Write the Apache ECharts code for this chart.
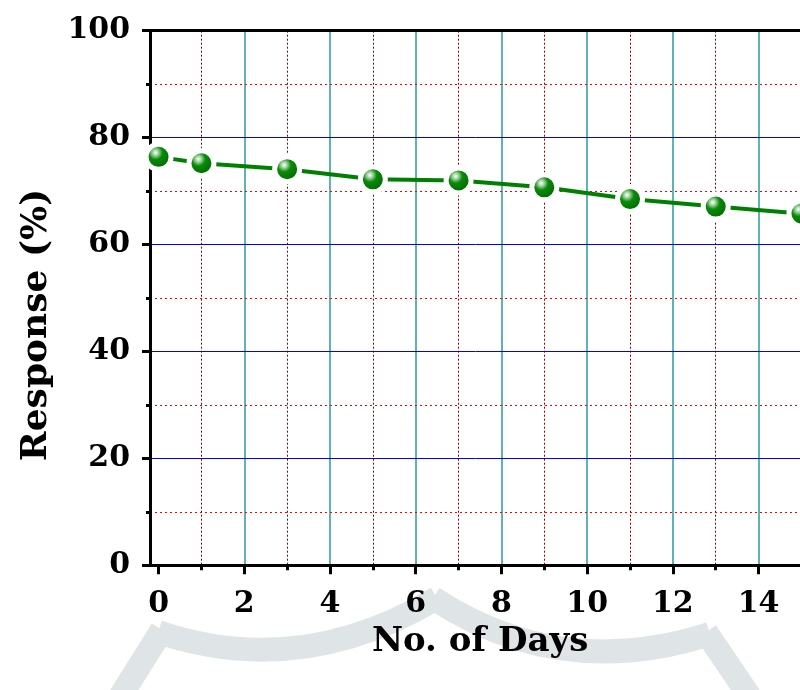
<!DOCTYPE html>
<html>
<head>
<meta charset="utf-8">
<script src="https://cdn.jsdelivr.net/npm/echarts@6/dist/echarts.min.js"></script>
<style>
html,body{margin:0;padding:0;background:#fff;}
#chart{width:800px;height:690px;}
</style>
</head>
<body>
<div id="chart"></div>
<script>
// ---- data ----
const days = [0, 1, 3, 5, 7, 9, 11, 13, 15];
const response = [76.4, 75.2, 74.1, 72.2, 72.0, 70.7, 68.5, 67.1, 65.8];
const xTicks = [0, 2, 4, 6, 8, 10, 12, 14, 16];
const xTitle = 'No. of Days';
const yTitle = 'Response (%)';

const seriesData = days.map((d, i) => [d, response[i]]);

const FONT = '"DejaVu Serif", serif';

const chart = echarts.init(document.getElementById('chart'), null, {renderer: 'canvas'});

const wmStyle = {fill: null, stroke: '#dfe4e7', lineWidth: 24, lineCap: 'butt'};
const option = {
  backgroundColor: '#ffffff',
  animation: false,
  graphic: [
    {type: 'line', z: -10, silent: true, shape: {x1: 118, y1: 700, x2: 162, y2: 630}, style: wmStyle},
    {type: 'bezierCurve', z: -10, silent: true, shape: {x1: 158, y1: 632, cpx1: 300, cpy1: 680, x2: 437, y2: 598}, style: wmStyle},
    {type: 'bezierCurve', z: -10, silent: true, shape: {x1: 433, y1: 598, cpx1: 560, cpy1: 682, x2: 710, y2: 634}, style: wmStyle},
    {type: 'line', z: -10, silent: true, shape: {x1: 706, y1: 632, x2: 752, y2: 700}, style: wmStyle}
  ],
  grid: {
    left: 150,
    top: 30.7,
    bottom: 124.7,
    right: -44.3,
    outerBoundsMode: 'none',
    containLabel: false,
    show: false
  },
  xAxis: [{
    type: 'value',
    min: -0.2,
    max: 16,
    splitNumber: 8,
    z: 3,
    name: xTitle,
    nameLocation: 'middle',
    nameGap: 60,
    nameTextStyle: {
      fontFamily: FONT, fontWeight: 'bold', fontSize: 34, color: '#000',
      padding: [0, 34, 0, 0]
    },
    axisLine: {show: true, onZero: false, lineStyle: {color: '#000', width: 3}},
    axisTick: {show: true, inside: false, length: 9, customValues: xTicks, lineStyle: {color: '#000', width: 3}},
    minorTick: {show: true, splitNumber: 2, length: 5, lineStyle: {color: '#000', width: 3}},
    axisLabel: {
      fontFamily: FONT, fontWeight: 'bold', fontSize: 30, color: '#000', margin: 24,
      customValues: xTicks
    },
    splitLine: {show: true, showMinLine: false, lineStyle: {color: '#2a9a9a', width: 1.5, type: 'solid'}},
    minorSplitLine: {show: true, lineStyle: {color: '#8b0000', width: 1, type: [2, 2]}}
  }, {
    type: 'value',
    position: 'top',
    min: -0.2,
    max: 16,
    z: 4,
    axisLine: {show: true, onZero: false, lineStyle: {color: '#000', width: 3}},
    axisTick: {show: false},
    axisLabel: {show: false},
    splitLine: {show: false}
  }],
  yAxis: {
    type: 'value',
    min: 0,
    max: 100,
    interval: 20,
    z: 4,
    name: yTitle,
    nameLocation: 'middle',
    nameGap: 95,
    nameRotate: 90,
    nameTextStyle: {
      fontFamily: FONT, fontWeight: 'bold', fontSize: 36, color: '#000',
      padding: [0, 54, 0, 0]
    },
    axisLine: {show: true, onZero: false, lineStyle: {color: '#000', width: 3}},
    axisTick: {show: true, inside: false, length: 8, lineStyle: {color: '#000', width: 3}},
    minorTick: {show: true, splitNumber: 2, length: 4, lineStyle: {color: '#000', width: 3}},
    axisLabel: {fontFamily: FONT, fontWeight: 'bold', fontSize: 30, color: '#000', margin: 20},
    splitLine: {show: true, showMinLine: false, showMaxLine: false, lineStyle: {color: '#0000ff', width: 1, type: 'solid'}},
    minorSplitLine: {show: true, lineStyle: {color: '#ff0000', width: 1, type: [2, 3]}}
  },
  series: [{
    type: 'line',
    data: seriesData,
    symbol: 'circle',
    symbolSize: 25,
    clip: false,
    lineStyle: {color: '#008000', width: 4},
    itemStyle: {
      color: {
        type: 'radial', x: 0.4, y: 0.36, r: 0.55,
        colorStops: [
          {offset: 0, color: '#ffffff'},
          {offset: 0.18, color: '#9ed49e'},
          {offset: 0.42, color: '#0a8a0a'},
          {offset: 1, color: '#006a00'}
        ]
      },
      borderColor: '#ffffff',
      borderWidth: 5
    },
    z: 10
  }]
};

chart.setOption(option);
</script>
</body>
</html>
